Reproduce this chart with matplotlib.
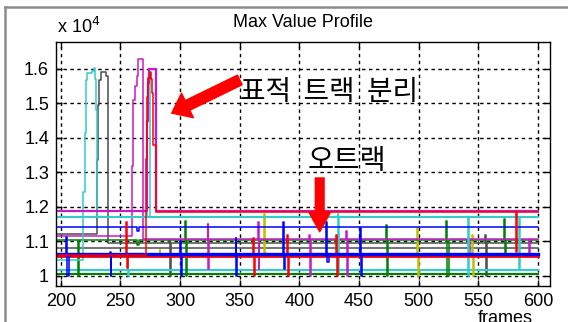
import numpy as np
import matplotlib
matplotlib.use("Agg")
import matplotlib.pyplot as plt
from matplotlib.lines import Line2D

plt.rcParams['font.family'] = ['Liberation Sans', 'DejaVu Sans']

# MATLAB classic colour order
C_B = (0, 0, 1)
C_G = (0, 0.5, 0)
C_R = (1, 0, 0)
C_C = (0.2, 0.8, 0.8)
C_M = (0.78, 0.1, 0.78)
C_Y = (0.75, 0.75, 0)
C_K = (0.3, 0.3, 0.3)

# data, values in units of 1e4 -- (frame, value) breakpoints, steps
# spikes: (frame, high, low, width in frames)
gray_peak_pts = [(196, 1.122), (230.5, 1.336), (231.3, 1.496), (232, 1.568), (234, 1.59),
                 (238.3, 1.58), (239.7, 1.097), (600, 1.097)]
gray_peak_spikes = [(291, 1.10, 1.0, 1.5), (555.5, 1.12, 1.0, 1.5)]

gray_low_pts = [(196, 1.081), (600, 1.081)]
gray_low_spikes = []

cyan_peak_pts = [(196, 1.046), (218.6, 1.244), (220, 1.414), (221.5, 1.568), (222.3, 1.587),
                 (226.5, 1.595), (228, 1.602), (229, 1.57), (229.6, 1.48), (230.5, 1.172),
                 (272.5, 1.45), (273.5, 1.575), (275, 1.172), (600, 1.172)]
cyan_peak_spikes = []

cyan_top_pts = [(196, 1.172), (600, 1.172)]
cyan_top_spikes = [(432, 1.18, 1.01, 1), (540, 1.172, 1.0, 2), (583, 1.17, 1.02, 1.5)]

cyan_low_pts = [(196, 1.017), (600, 1.017)]
cyan_low_spikes = [(256, 1.06, 1.0, 1.5)]

mag_a_pts = [(196, 1.116), (259.5, 1.32), (260.5, 1.51), (262, 1.55), (263.5, 1.58),
             (265, 1.628), (268.5, 1.107), (600, 1.107)]
mag_a_spikes = [(323, 1.15, 1.02, 1.5), (365, 1.157, 1.02, 1.5), (408, 1.12, 1.0, 1.5),
                (439, 1.13, 1.0, 1.5), (542, 1.11, 1.06, 1), (592, 1.075, 1.06, 1)]

mag_b_pts = [(196, 1.187), (272, 1.45), (273, 1.56), (274, 1.60), (279.5, 1.187), (600, 1.187)]
mag_b_spikes = []

blue_top_pts = [(196, 1.143), (263.5, 1.13), (265.5, 1.143), (600, 1.143)]
blue_top_spikes = []

blue_low_pts = [(196, 1.065), (600, 1.065)]
blue_low_spikes = [(204, 1.113, 1.0, 3), (241, 1.07, 1.0, 1.5), (300, 1.10, 1.0, 1.5),
                   (346.5, 1.111, 1.0, 1.5), (386, 1.155, 1.02, 1.5), (422.5, 1.157, 1.04, 2),
                   (451, 1.14, 1.0, 1.5)]

green_top_pts = [(196, 1.104), (264, 1.09), (265.5, 1.104), (600, 1.104)]
green_top_spikes = [(213, 1.104, 1.0, 2.5), (304, 1.16, 1.0, 1.5), (472.5, 1.148, 1.0, 2),
                    (523, 1.16, 1.0, 2), (571.5, 1.165, 1.06, 2)]

green_low_pts = [(196, 1.006), (600, 1.006)]
green_low_spikes = []

red_low_pts = [(196, 1.058), (600, 1.058)]
red_low_spikes = [(255, 1.157, 1.023, 1.5), (361, 1.11, 1.0, 2), (390, 1.12, 1.0, 1.5),
                  (430.6, 1.12, 1.0, 2)]

yellow_pts = [(196, 1.063), (600, 1.063)]
yellow_spikes = [(283, 1.075, 1.063, 1), (370, 1.18, 1.066, 2), (498.5, 1.14, 1.0, 1.5),
                 (544.7, 1.12, 1.0, 1.5)]

red_sep_pts = [(196, 1.060), (271.5, 1.34), (272.5, 1.52), (273.5, 1.575), (274.5, 1.59),
               (275.5, 1.57), (276.5, 1.53), (277.5, 1.38), (280, 1.184), (600, 1.184)]
red_sep_spikes = [(581, 1.184, 1.07, 1.5)]

x_ticks = [200, 250, 300, 350, 400, 450, 500, 550, 600]
y_ticks = [1.0, 1.1, 1.2, 1.3, 1.4, 1.5, 1.6]
y_labels = ['1', '1.1', '1.2', '1.3', '1.4', '1.5', '1.6']


def step_path(points, spikes):
    fr = [p[0] for p in points]
    va = [p[1] for p in points]
    for f, hi, lo, w in spikes:
        i = int(np.searchsorted(fr, f, side='right'))
        base = va[i - 1]
        fr[i:i] = [f, f + w / 2, f + w]
        va[i:i] = [hi, lo, base]
    return fr, va


# (points, spikes, colour, line width, extra width of the base line)
series = [
    (gray_low_pts, gray_low_spikes, C_K, 1.1, 0),
    (gray_peak_pts, gray_peak_spikes, C_K, 1.1, 0),
    (green_low_pts, green_low_spikes, C_G, 1.1, 1.5),
    (cyan_low_pts, cyan_low_spikes, C_C, 1.1, 1.5),
    (yellow_pts, yellow_spikes, C_Y, 1.1, 0),
    (green_top_pts, green_top_spikes, C_G, 1.1, 0),
    (mag_a_pts, mag_a_spikes, C_M, 1.1, 0),
    (cyan_top_pts, cyan_top_spikes, C_C, 1.1, 1.5),
    (cyan_peak_pts, cyan_peak_spikes, C_C, 1.1, 0),
    (blue_top_pts, blue_top_spikes, C_B, 1.1, 0),
    (mag_b_pts, mag_b_spikes, C_M, 1.1, 1.6),
    (red_low_pts, red_low_spikes, C_R, 1.1, 2.0),
    (blue_low_pts, blue_low_spikes, C_B, 1.1, 2.4),
    (red_sep_pts, red_sep_spikes, C_R, 1.1, 0),
]

fig = plt.figure(figsize=(5.68, 3.22), dpi=100)
ax = fig.add_axes([56 / 568, 1 - 286 / 322, 494 / 568, 244 / 322])

for pts, spk, col, lw, base_lw in series:
    fr, va = step_path(pts, spk)
    ax.plot(fr, va, drawstyle='steps-post', color=col, lw=lw)
    if base_lw:
        bf, bv = step_path(pts, [])
        ax.plot(bf, bv, drawstyle='steps-post', color=col, lw=base_lw)

ax.set_xlim(196, 610)
ax.set_ylim(0.971, 1.678)
ax.set_xticks(x_ticks)
ax.set_yticks(y_ticks)
ax.set_yticklabels(y_labels)
ax.grid(True, color='black', linestyle=(0, (2.5, 2.5)), lw=1.0)
ax.tick_params(direction='in', top=True, right=True, length=4, width=1,
               labelsize=13, pad=5)
for s in ax.spines.values():
    s.set_linewidth(1.0)

ax.set_title('Max Value Profile', fontsize=13, pad=11)
fig.text(57 / 568, 1 - 27 / 322, 'x 10$^{4}$', fontsize=13, va='center', ha='left')
fig.text(505 / 568, 1 - 310 / 322, 'frames', fontsize=13, va='top', ha='center')

# annotations
ax.annotate('', xy=(293, 1.472), xytext=(350, 1.568),
            arrowprops=dict(arrowstyle='simple,head_length=0.9,head_width=1.4,tail_width=0.55',
                            color='red', shrinkA=0, shrinkB=0, mutation_scale=14))
ax.annotate('', xy=(417, 1.128), xytext=(417, 1.284),
            arrowprops=dict(arrowstyle='simple,head_length=1.0,head_width=1.1,tail_width=0.45',
                            color='red', shrinkA=0, shrinkB=0, mutation_scale=14))
fig.text(240 / 568, 1 - 92 / 322, '표적  트랙  분리', fontsize=20, va='center', ha='left',
         family=['Noto Sans CJK KR', 'DejaVu Sans'])
fig.text(308 / 568, 1 - 161 / 322, '오트랙', fontsize=20.5, va='center', ha='left',
         family=['Noto Sans CJK KR', 'DejaVu Sans'])

# window frame
fig.add_artist(Line2D([5 / 568, 1], [1 - 7 / 322] * 2, transform=fig.transFigure,
                      color='#8c8c8c', lw=1.8))
fig.add_artist(Line2D([5 / 568] * 2, [0, 1 - 7 / 322], transform=fig.transFigure,
                      color='#8c8c8c', lw=1.8))

fig.savefig('out.png', dpi=100)
